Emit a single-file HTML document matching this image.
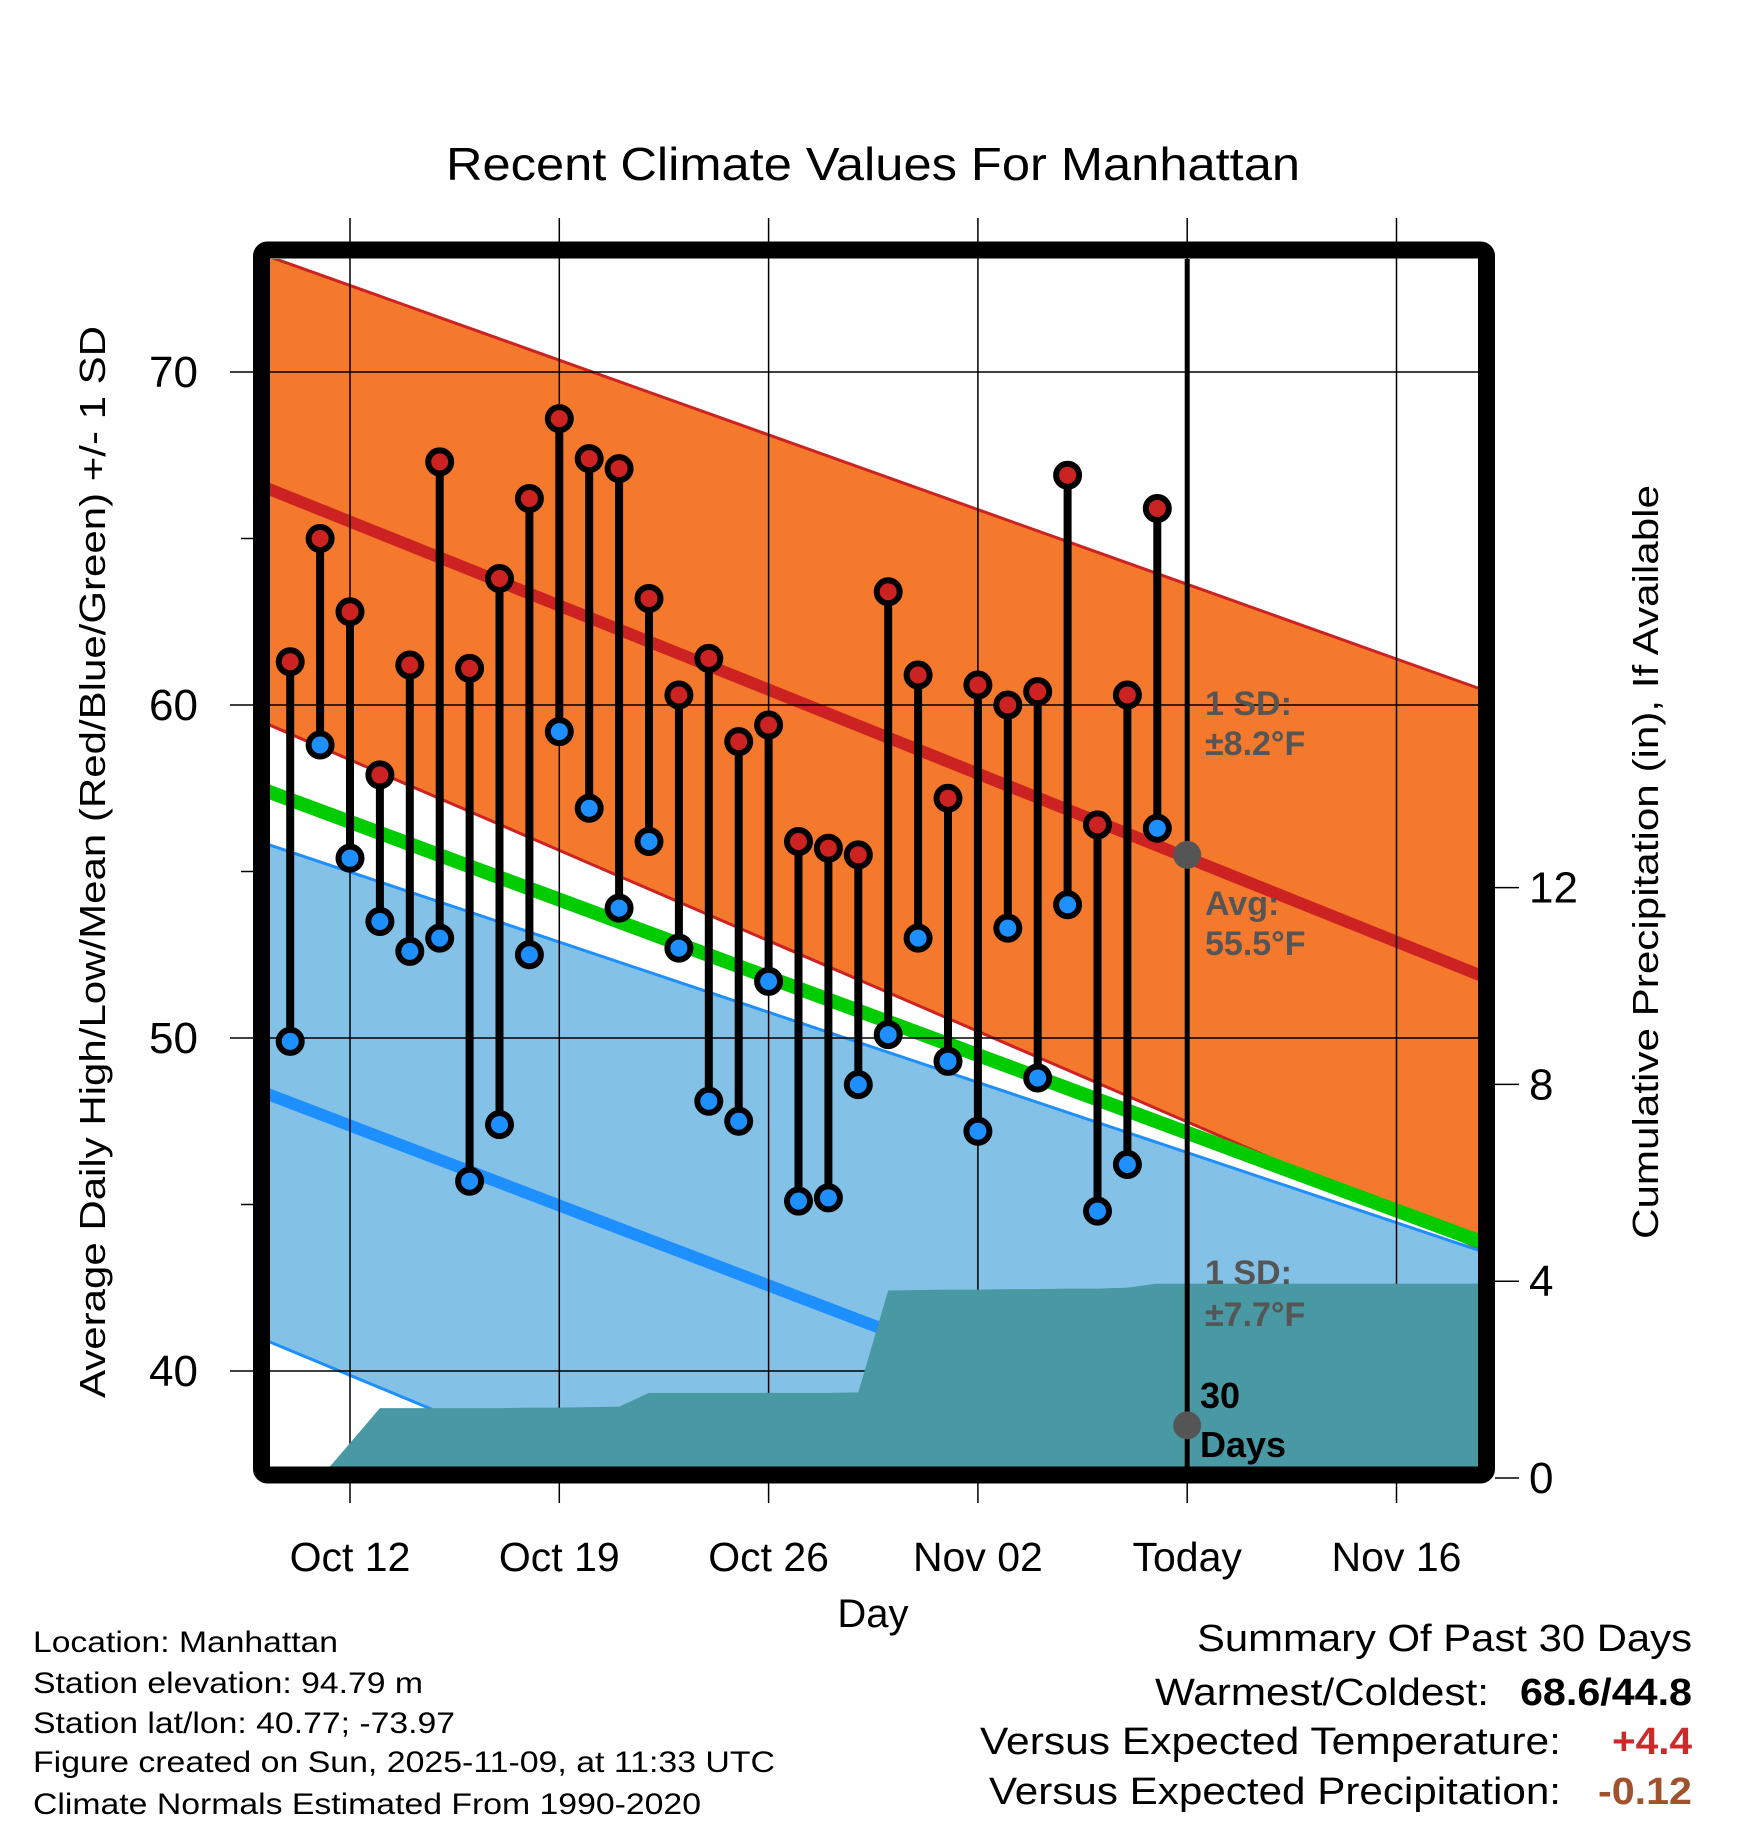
<!DOCTYPE html>
<html><head><meta charset="utf-8"><style>
html,body{margin:0;padding:0;background:#fff;}
svg{display:block;font-family:"Liberation Sans",sans-serif;}
</style></head><body>
<svg id="chart" width="1748" height="1828" viewBox="0 0 1748 1828" xmlns="http://www.w3.org/2000/svg">
<defs><clipPath id="plotclip"><rect x="270" y="259" width="1208" height="1209"/></clipPath></defs>
<text x="873" y="180" text-anchor="middle" font-size="46" textLength="854" lengthAdjust="spacingAndGlyphs">Recent Climate Values For Manhattan</text>
<g id="plot" clip-path="url(#plotclip)"></g>
<g id="over"></g>
<text transform="translate(105,862) rotate(-90)" text-anchor="middle" font-size="36" textLength="1072" lengthAdjust="spacingAndGlyphs">Average Daily High/Low/Mean (Red/Blue/Green) +/- 1 SD</text>
<text transform="translate(1658,862) rotate(-90)" text-anchor="middle" font-size="36" textLength="754" lengthAdjust="spacingAndGlyphs">Cumulative Precipitation (in), If Available</text>
<text x="873" y="1627" text-anchor="middle" font-size="40">Day</text>
<g font-size="30">
<text x="33" y="1652" textLength="305" lengthAdjust="spacingAndGlyphs">Location: Manhattan</text>
<text x="33" y="1693" textLength="390" lengthAdjust="spacingAndGlyphs">Station elevation: 94.79 m</text>
<text x="33" y="1733" textLength="422" lengthAdjust="spacingAndGlyphs">Station lat/lon: 40.77; -73.97</text>
<text x="33" y="1772" textLength="742" lengthAdjust="spacingAndGlyphs">Figure created on Sun, 2025-11-09, at 11:33 UTC</text>
<text x="33" y="1814" textLength="668" lengthAdjust="spacingAndGlyphs">Climate Normals Estimated From 1990-2020</text>
</g>
<g font-size="38">
<text x="1692" y="1651" text-anchor="end" textLength="495" lengthAdjust="spacingAndGlyphs">Summary Of Past 30 Days</text>
<text x="1489" y="1705" text-anchor="end" textLength="334" lengthAdjust="spacingAndGlyphs">Warmest/Coldest:</text>
<text x="1692" y="1705" text-anchor="end" font-weight="bold" textLength="172" lengthAdjust="spacingAndGlyphs">68.6/44.8</text>
<text x="1561" y="1754" text-anchor="end" textLength="581" lengthAdjust="spacingAndGlyphs">Versus Expected Temperature:</text>
<text x="1692" y="1754" text-anchor="end" font-weight="bold" fill="#cc2a2a" textLength="80" lengthAdjust="spacingAndGlyphs">+4.4</text>
<text x="1561" y="1804" text-anchor="end" textLength="572" lengthAdjust="spacingAndGlyphs">Versus Expected Precipitation:</text>
<text x="1692" y="1804" text-anchor="end" font-weight="bold" fill="#a0522d" textLength="94" lengthAdjust="spacingAndGlyphs">-0.12</text>
</g>
</svg>
<script>
// days relative to Oct 12 (0)
const obsDays = [-2,-1,0,1,2,3,4,5,6,7,8,9,10,11,12,13,14,15,16,17,18,19,20,21,22,23,24,25,26,27];
const highs = [61.3,65.0,62.8,57.9,61.2,67.3,61.1,63.8,66.2,68.6,67.4,67.1,63.2,60.3,61.4,58.9,59.4,55.9,55.7,55.5,63.4,60.9,57.2,60.6,60.0,60.4,66.9,56.4,60.3,65.9];
const lows = [49.9,58.8,55.4,53.5,52.6,53.0,45.7,47.4,52.5,59.2,56.9,53.9,55.9,52.7,48.1,47.5,51.7,45.1,45.2,48.6,50.1,53.0,49.3,47.2,53.3,48.8,54.0,44.8,46.2,56.3];
const precipCum = [0,0,0.71,1.42,1.42,1.42,1.42,1.42,1.43,1.43,1.44,1.45,1.73,1.73,1.73,1.73,1.73,1.73,1.73,1.74,3.81,3.82,3.83,3.83,3.84,3.84,3.85,3.85,3.87,3.95];
const normDays = [-3,38];
const normHighPlus = [73.56,60.42];
const normHigh = [66.59,51.81];
const normHighMinus = [59.52,43.6];
const normMean = [57.49,43.82];
const normLowPlus = [55.89,43.55];
const normLow = [48.40,34.34];
const normLowMinus = [40.99,25.70];
const xTickDays = [0,7,14,21,28,35];
const xTickLabels = ["Oct 12","Oct 19","Oct 26","Nov 02","Today","Nov 16"];
const yTicks = [40,50,60,70];
const yMinorTicks = [45,55,65];
const pTicks = [0,4,8,12];
const todayDay = 28;
const todayAvg = 55.5;
const todayPrecipExp = 1.07;
const rightEdgeDay = 37.7;

const X = d => 350 + d*29.9;
const YT = t => 372 + (70 - t)*33.3;
const YP = p => 1478 - p*49.2;
const NS = "http://www.w3.org/2000/svg";
const plot = document.getElementById('plot');
const over = document.getElementById('over');
function mk(tag, attrs, parent){const e=document.createElementNS(NS,tag);for(const k in attrs)e.setAttribute(k,attrs[k]);parent.appendChild(e);return e;}
function pts(arr){return normDays.map((d,i)=>X(d)+','+YT(arr[i])).join(' ');}
function band(a,b){return normDays.map((d,i)=>X(d)+','+YT(a[i])).concat(normDays.slice().reverse().map((d,i)=>X(d)+','+YT(b[normDays.length-1-i]))).join(' ');}

let e;
e = mk('polygon',{points:band(normLowPlus,normLowMinus),fill:'#84c1e7'},plot);


e = mk('polygon',{points:band(normHighPlus,normHighMinus),fill:'#f5792c'},plot);


[[normHighPlus,'#cc2222',3,'high-plus-sd-line'],[normHighMinus,'#cc2222',3,'high-minus-sd-line'],[normLowPlus,'#1e8fff',3,'low-plus-sd-line'],[normLowMinus,'#1e8fff',3,'low-minus-sd-line'],[normHigh,'#cc2222',12,'normal-high-line'],[normLow,'#1e8fff',12,'normal-low-line'],[normMean,'#00cc00',14,'normal-mean-line']].forEach(s=>{
  const l = mk('polyline',{points:pts(s[0]),fill:'none',stroke:s[1],'stroke-width':s[2]},plot);
  
  
});
yTicks.forEach(t=>{const g=mk('line',{x1:270,x2:1478,y1:YT(t),y2:YT(t),stroke:'#000','stroke-width':1.5},plot);
  
  });
xTickDays.forEach(d=>{const g=mk('line',{x1:X(d),x2:X(d),y1:218,y2:1503,stroke:'#000','stroke-width':1.5},over);
  
  });
let pp = [X(obsDays[0])+','+YP(0)];
obsDays.forEach((d,i)=>pp.push(X(d)+','+YP(precipCum[i])));
pp.push(X(rightEdgeDay+1)+','+YP(precipCum[precipCum.length-1]));
pp.push(X(rightEdgeDay+1)+','+YP(0));
const cover = mk('g',{'clip-path':'url(#plotclip)'},over);


e = mk('polygon',{points:pp.join(' '),fill:'#4899a3'},cover);


const lab = mk('g',{'font-weight':'bold','font-size':'34',fill:'#555'},over);


[["1 SD:",715],["±8.2°F",755],["Avg:",915],["55.5°F",955],["1 SD:",1284],["±7.7°F",1326]].forEach(a=>{
  const t=mk('text',{x:1205,y:a[1]},lab); t.textContent=a[0];
  
  });
[["30",1408],["Days",1457]].forEach(a=>{
  const t=mk('text',{x:1200,y:a[1],fill:'#000','font-weight':'bold','font-size':'36'},over); t.textContent=a[0];
  
  });
e = mk('line',{x1:X(todayDay),x2:X(todayDay),y1:259,y2:1468,stroke:'#000','stroke-width':5},over);


e = mk('circle',{cx:X(todayDay),cy:YT(todayAvg),r:14,fill:'#555'},over);


e = mk('circle',{cx:X(todayDay),cy:YP(todayPrecipExp),r:14,fill:'#555'},over);


obsDays.forEach((d,i)=>{
  const s=mk('line',{x1:X(d),x2:X(d),y1:YT(highs[i]),y2:YT(lows[i]),stroke:'#000','stroke-width':8},over);
  
  
});
obsDays.forEach((d,i)=>{
  const h=mk('circle',{cx:X(d),cy:YT(highs[i]),r:11.5,fill:'#cc2222',stroke:'#000','stroke-width':6},over);
  
  
  const l=mk('circle',{cx:X(d),cy:YT(lows[i]),r:11.5,fill:'#1e8fff',stroke:'#000','stroke-width':6},over);
  
  
});
e = mk('rect',{x:261.5,y:250,width:1225,height:1225,rx:6,fill:'none',stroke:'#000','stroke-width':17},over);


yTicks.forEach(t=>{
  const k=mk('line',{x1:230,x2:253,y1:YT(t),y2:YT(t),stroke:'#000','stroke-width':1.5},over);
  
  
  const tx=mk('text',{x:198,y:YT(t)+15,'text-anchor':'end','font-size':'44'},over); tx.textContent=t;
  
  
});
yMinorTicks.forEach(t=>{
  const k=mk('line',{x1:241,x2:253,y1:YT(t),y2:YT(t),stroke:'#000','stroke-width':1.5},over);
  
  
});
pTicks.forEach(p=>{
  const k=mk('line',{x1:1495,x2:1519,y1:YP(p),y2:YP(p),stroke:'#000','stroke-width':1.5},over);
  
  
  const tx=mk('text',{x:1529,y:YP(p)+15,'font-size':'44'},over); tx.textContent=p;
  
  
});
xTickDays.forEach((d,i)=>{
  const tx=mk('text',{x:X(d),y:1571,'text-anchor':'middle','font-size':'41'},over); tx.textContent=xTickLabels[i];
  
  
});
</script>
</body></html>
